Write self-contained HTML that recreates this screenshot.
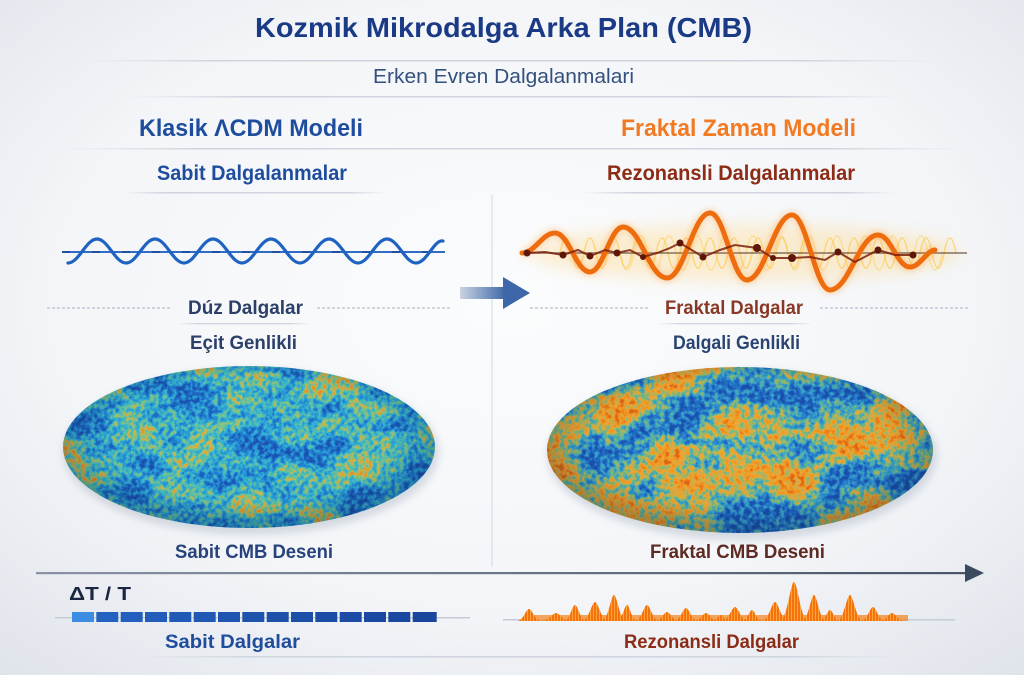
<!DOCTYPE html>
<html><head><meta charset="utf-8"><style>html,body{margin:0;padding:0;background:#f3f5f8}svg{display:block}text{font-family:"Liberation Sans",sans-serif}</style></head>
<body>
<svg width="1024" height="675" viewBox="0 0 1024 675" xmlns="http://www.w3.org/2000/svg">
<defs>
  <radialGradient id="bg" cx="50%" cy="45%" r="75%">
    <stop offset="0" stop-color="#fbfcfd"/>
    <stop offset="0.6" stop-color="#f3f5f8"/>
    <stop offset="1" stop-color="#dfe3ea"/>
  </radialGradient>
  <linearGradient id="fade" x1="0" y1="0" x2="1" y2="0">
    <stop offset="0" stop-color="#cfd5df" stop-opacity="0"/>
    <stop offset="0.15" stop-color="#cfd5df"/>
    <stop offset="0.85" stop-color="#cfd5df"/>
    <stop offset="1" stop-color="#cfd5df" stop-opacity="0"/>
  </linearGradient>
  <linearGradient id="arrowG" x1="0" y1="0" x2="1" y2="0">
    <stop offset="0" stop-color="#c9d3e2"/>
    <stop offset="1" stop-color="#3d67a8"/>
  </linearGradient>
  <linearGradient id="axisG" x1="0" y1="0" x2="1" y2="0">
    <stop offset="0" stop-color="#8a93a3"/>
    <stop offset="1" stop-color="#4a5568"/>
  </linearGradient>
  <radialGradient id="shade" cx="50%" cy="45%" r="52%">
    <stop offset="0" stop-color="#001030" stop-opacity="0"/>
    <stop offset="0.75" stop-color="#001030" stop-opacity="0.03"/>
    <stop offset="1" stop-color="#001030" stop-opacity="0.25"/>
  </radialGradient>
  <clipPath id="clipL"><ellipse cx="249" cy="447" rx="186" ry="81"/></clipPath>
  <clipPath id="clipR"><ellipse cx="740" cy="450" rx="193" ry="83"/></clipPath>
  <filter id="fL" x="0" y="0" width="1" height="1" color-interpolation-filters="sRGB">
    <feTurbulence type="fractalNoise" baseFrequency="0.018 0.03" numOctaves="3" seed="4" result="t1"/>
    <feColorMatrix in="t1" type="matrix" values="2.4 0 0 0 -0.7  2.4 0 0 0 -0.7  2.4 0 0 0 -0.7  0 0 0 0 1" result="c1"/>
    <feTurbulence type="fractalNoise" baseFrequency="0.22" numOctaves="2" seed="9" result="t2"/>
    <feColorMatrix in="t2" type="matrix" values="2.5 0 0 0 -0.75  2.5 0 0 0 -0.75  2.5 0 0 0 -0.75  0 0 0 0 1" result="c2"/>
    <feComposite in="c1" in2="c2" operator="arithmetic" k1="0" k2="0.6" k3="0.45" k4="-0.05" result="m"/>
    <feComponentTransfer in="m">
      <feFuncR type="table" tableValues="0.10 0.12 0.15 0.22 0.45 0.85 0.95"/>
      <feFuncG type="table" tableValues="0.32 0.42 0.58 0.72 0.78 0.72 0.55"/>
      <feFuncB type="table" tableValues="0.68 0.78 0.85 0.82 0.58 0.28 0.12"/>
      <feFuncA type="table" tableValues="1 1"/>
    </feComponentTransfer>
  </filter>
  <filter id="fR" x="0" y="0" width="1" height="1" color-interpolation-filters="sRGB">
    <feTurbulence type="fractalNoise" baseFrequency="0.014 0.024" numOctaves="3" seed="11" result="t1"/>
    <feColorMatrix in="t1" type="matrix" values="2.5 0 0 0 -0.75  2.5 0 0 0 -0.75  2.5 0 0 0 -0.75  0 0 0 0 1" result="c1"/>
    <feTurbulence type="fractalNoise" baseFrequency="0.2" numOctaves="2" seed="3" result="t2"/>
    <feColorMatrix in="t2" type="matrix" values="2.5 0 0 0 -0.75  2.5 0 0 0 -0.75  2.5 0 0 0 -0.75  0 0 0 0 1" result="c2"/>
    <feComposite in="c1" in2="c2" operator="arithmetic" k1="0" k2="0.65" k3="0.4" k4="-0.06" result="m"/>
    <feComponentTransfer in="m">
      <feFuncR type="table" tableValues="0.10 0.14 0.22 0.50 0.93 0.97 0.88"/>
      <feFuncG type="table" tableValues="0.32 0.45 0.65 0.74 0.68 0.58 0.40"/>
      <feFuncB type="table" tableValues="0.68 0.80 0.80 0.50 0.22 0.12 0.08"/>
      <feFuncA type="table" tableValues="1 1"/>
    </feComponentTransfer>
  </filter>
  <filter id="blur8" x="-20%" y="-100%" width="140%" height="300%"><feGaussianBlur stdDeviation="8"/></filter>
  <filter id="blur3" x="-10%" y="-50%" width="120%" height="200%"><feGaussianBlur stdDeviation="3"/></filter>
  <filter id="blur4"><feGaussianBlur stdDeviation="4"/></filter>
  <pattern id="stripes" width="3" height="10" patternUnits="userSpaceOnUse">
    <rect width="3" height="10" fill="#f4720f"/>
    <rect x="2" width="1" height="10" fill="#ffa535"/>
  </pattern>
</defs>

<rect width="1024" height="675" fill="url(#bg)"/>

<!-- Header -->
<text x="255" y="37" font-size="28" font-weight="bold" fill="#1b3a86" textLength="497" lengthAdjust="spacingAndGlyphs">Kozmik Mikrodalga Arka Plan (CMB)</text>
<rect x="85" y="60" width="850" height="1.5" fill="url(#fade)"/>
<text x="373" y="83" font-size="20" fill="#34507e" textLength="261" lengthAdjust="spacingAndGlyphs">Erken Evren Dalgalanmalari</text>
<rect x="124" y="96" width="778" height="1.5" fill="url(#fade)"/>
<text x="139" y="136" font-size="24" font-weight="bold" fill="#1f4d9e" textLength="224" lengthAdjust="spacingAndGlyphs">Klasik ΛCDM Modeli</text>
<text x="621" y="136" font-size="24" font-weight="bold" fill="#f27a22" textLength="235" lengthAdjust="spacingAndGlyphs">Fraktal Zaman Modeli</text>
<rect x="59" y="148" width="908" height="1.5" fill="url(#fade)"/>
<text x="157" y="180" font-size="21" font-weight="bold" fill="#1f4d9e" textLength="190" lengthAdjust="spacingAndGlyphs">Sabit Dalgalanmalar</text>
<text x="607" y="180" font-size="21" font-weight="bold" fill="#8c2c16" textLength="248" lengthAdjust="spacingAndGlyphs">Rezonansli Dalgalanmalar</text>
<rect x="124" y="192" width="262" height="1.5" fill="url(#fade)"/>
<rect x="582" y="192" width="313" height="1.5" fill="url(#fade)"/>

<!-- divider -->
<rect x="491.5" y="195" width="1" height="372" fill="#d3d9e2"/>

<!-- Left wave -->
<line x1="62" y1="252" x2="445" y2="252" stroke="#2f6cc4" stroke-width="2"/>
<line x1="62" y1="252" x2="445" y2="252" stroke="#1a3f86" stroke-width="2" stroke-dasharray="8 22" opacity="0.6"/>
<path d="M68,263 C79,263 86,239 97,239 S115,263 126,263 S144,239 155,239 S173,263 184,263 S202,239 213,239 S231,263 242,263 S260,239 271,239 S289,263 300,263 S318,239 329,239 S347,263 358,263 S376,239 387,239 S405,263 416,263 S434,239 443,241" fill="none" stroke="#1f63c2" stroke-width="3.2" stroke-linecap="round"/>

<!-- middle arrow -->
<rect x="460" y="287" width="46" height="12" fill="url(#arrowG)"/>
<polygon points="503,277 530,293 503,309" fill="#3d67a8"/>

<!-- Right wave -->
<ellipse cx="745" cy="253" rx="215" ry="28" fill="#ffcf6a" opacity="0.3" filter="url(#blur8)"/>
<path d="M560,253 q6,-30 12,0 t12,0 t12,0 t12,0 t12,0 t12,0 t12,0 t12,0 t12,0 t12,0 t12,0 t12,0 t12,0 t12,0 t12,0 t12,0 t12,0 t12,0 t12,0 t12,0 t12,0 t12,0 t12,0 t12,0 t12,0 t12,0 t12,0 t12,0 t12,0 t12,0 t12,0 t12,0 t12,0" fill="none" stroke="#ffc33a" stroke-width="1.6" opacity="0.55"/>
<path d="M620,253 q7,34 14,0 t14,0 t14,0 t14,0 t14,0 t14,0 t14,0 t14,0 t14,0 t14,0 t14,0 t14,0 t14,0 t14,0 t14,0 t14,0 t14,0 t14,0 t14,0 t14,0 t14,0 t14,0 t14,0" fill="none" stroke="#ffcd55" stroke-width="1.5" opacity="0.45"/>
<line x1="520" y1="253" x2="967" y2="253" stroke="#5a3a2a" stroke-width="1.6" opacity="0.7"/>
<path d="M522,253 C535,253 542,233 555,233 C569,233 576,272 590,272 C603,272 610,227 623,227 C641,227 649,278 667,278 C684,278 693,213 710,213 C725,213 732,280 747,280 C765,280 774,215 792,215 C807,215 815,290 830,290 C849,290 859,235 878,235 C891,235 897,267 910,267 C920,267 927,250 935,250" fill="none" stroke="#ff9a3a" stroke-width="9" opacity="0.3" filter="url(#blur3)"/>
<path d="M522,253 C535,253 542,233 555,233 C569,233 576,272 590,272 C603,272 610,227 623,227 C641,227 649,278 667,278 C684,278 693,213 710,213 C725,213 732,280 747,280 C765,280 774,215 792,215 C807,215 815,290 830,290 C849,290 859,235 878,235 C891,235 897,267 910,267 C920,267 927,250 935,250" fill="none" stroke="#ef6c0e" stroke-width="5" stroke-linecap="round"/>
<polyline points="527,253 545,252 563,255 578,250 590,256 605,250 617,253 630,250 643,257 657,253 670,248 680,243 695,252 703,257 720,250 735,245 757,248 773,258 792,258 810,257 825,260 838,252 855,262 878,250 895,255 913,255" fill="none" stroke="#7a1e0c" stroke-width="2" opacity="0.85"/>
<g fill="#5e1608">
  <circle cx="527" cy="253" r="3.5"/><circle cx="563" cy="255" r="3.5"/><circle cx="590" cy="256" r="3.5"/>
  <circle cx="617" cy="253" r="3.5"/><circle cx="643" cy="257" r="3"/><circle cx="680" cy="243" r="3.5"/>
  <circle cx="703" cy="257" r="3.5"/><circle cx="757" cy="248" r="4"/><circle cx="773" cy="258" r="3"/>
  <circle cx="792" cy="258" r="4"/><circle cx="838" cy="252" r="3.5"/><circle cx="878" cy="250" r="3.5"/><circle cx="913" cy="255" r="3.5"/>
</g>

<!-- wave labels -->
<line x1="47" y1="308" x2="172" y2="308" stroke="#c2c9d4" stroke-width="1.4" stroke-dasharray="3 2"/>
<line x1="317" y1="308" x2="452" y2="308" stroke="#c2c9d4" stroke-width="1.4" stroke-dasharray="3 2"/>
<line x1="530" y1="308" x2="650" y2="308" stroke="#c2c9d4" stroke-width="1.4" stroke-dasharray="3 2"/>
<line x1="820" y1="308" x2="970" y2="308" stroke="#c2c9d4" stroke-width="1.4" stroke-dasharray="3 2"/>
<text x="188" y="314" font-size="19" font-weight="bold" fill="#2b3f68" textLength="115" lengthAdjust="spacingAndGlyphs">Dúz Dalgalar</text>
<text x="665" y="314" font-size="19" font-weight="bold" fill="#8a3826" textLength="138" lengthAdjust="spacingAndGlyphs">Fraktal Dalgalar</text>
<rect x="177" y="323" width="133" height="1.3" fill="url(#fade)"/>
<rect x="657" y="323" width="156" height="1.3" fill="url(#fade)"/>
<text x="190" y="349" font-size="19" font-weight="bold" fill="#2b3f68" textLength="107" lengthAdjust="spacingAndGlyphs">Eçit Genlikli</text>
<text x="673" y="349" font-size="19" font-weight="bold" fill="#2a4472" textLength="127" lengthAdjust="spacingAndGlyphs">Dalgali Genlikli</text>

<!-- CMB maps -->
<ellipse cx="251" cy="452" rx="188" ry="83" fill="#8a96aa" opacity="0.3" filter="url(#blur4)"/>
<g clip-path="url(#clipL)">
  <rect x="60" y="362" width="380" height="170" filter="url(#fL)"/>
  <ellipse cx="249" cy="447" rx="186" ry="81" fill="url(#shade)"/>
</g>
<ellipse cx="742" cy="455" rx="195" ry="85" fill="#8a96aa" opacity="0.3" filter="url(#blur4)"/>
<g clip-path="url(#clipR)">
  <rect x="544" y="364" width="392" height="172" filter="url(#fR)"/>
  <ellipse cx="740" cy="450" rx="193" ry="83" fill="url(#shade)"/>
</g>
<text x="175" y="558" font-size="19" font-weight="bold" fill="#27427c" textLength="158" lengthAdjust="spacingAndGlyphs">Sabit CMB Deseni</text>
<text x="650" y="558" font-size="19" font-weight="bold" fill="#5e2a22" textLength="175" lengthAdjust="spacingAndGlyphs">Fraktal CMB Deseni</text>

<!-- bottom axis -->
<rect x="36" y="572" width="932" height="2.2" fill="url(#axisG)"/>
<polygon points="965,564 984,573 965,582" fill="#3c4a60"/>
<text x="69" y="600" font-size="18" font-weight="bold" fill="#1b2640" textLength="62" lengthAdjust="spacingAndGlyphs">ΔT / T</text>

<rect x="55" y="617" width="415" height="1.5" fill="#c6ccd6"/>
<rect x="503" y="619" width="452" height="1.5" fill="#c6ccd6"/>
<g>
  <rect x="72" y="612" width="22" height="10" fill="#3a8de0"/>
  <rect x="96.3" y="612" width="22" height="10" fill="#2462c0"/>
  <rect x="120.7" y="612" width="22" height="10" fill="#2360bd"/>
  <rect x="145" y="612" width="22" height="10" fill="#225dba"/>
  <rect x="169.3" y="612" width="22" height="10" fill="#215ab6"/>
  <rect x="193.7" y="612" width="22" height="10" fill="#2058b3"/>
  <rect x="218" y="612" width="22" height="10" fill="#1f55b0"/>
  <rect x="242.3" y="612" width="22" height="10" fill="#1e53ad"/>
  <rect x="266.7" y="612" width="22" height="10" fill="#1d51aa"/>
  <rect x="291" y="612" width="22" height="10" fill="#1c4fa8"/>
  <rect x="315.3" y="612" width="22" height="10" fill="#1c4da6"/>
  <rect x="339.7" y="612" width="22" height="10" fill="#1b4ba4"/>
  <rect x="364" y="612" width="22" height="10" fill="#1b49a2"/>
  <rect x="388.3" y="612" width="22" height="10" fill="#1a48a0"/>
  <rect x="412.7" y="612" width="24" height="10" fill="#1a469e"/>
</g>

<rect x="524" y="615" width="384" height="6" fill="#f4801a" opacity="0.7"/>
<g fill="url(#stripes)">
  <path d="M517,621 C523,621 526,609 529,609 S535,621 541,621Z"/>
  <path d="M542,621 C549,621 552.5,613 556,613 S563,621 570,621Z"/>
  <path d="M564,621 C569.5,621 572.2,605 575,605 S580.5,621 586,621Z"/>
  <path d="M582,621 C588.5,621 591.8,602 595,602 S601.5,621 608,621Z"/>
  <path d="M602,621 C608,621 611,595 614,595 S620,621 626,621Z"/>
  <path d="M617,621 C622,621 624.5,605 627,605 S632,621 637,621Z"/>
  <path d="M635,621 C641,621 644,605 647,605 S653,621 659,621Z"/>
  <path d="M655,621 C661,621 664,612 667,612 S673,621 679,621Z"/>
  <path d="M674,621 C680,621 683,608 686,608 S692,621 698,621Z"/>
  <path d="M694,621 C700,621 703,613 706,613 S712,621 718,621Z"/>
  <path d="M712,621 C716,621 719,615 721,615 S725,621 729,621Z"/>
  <path d="M722,621 C728.5,621 731.8,607 735,607 S741.5,621 748,621Z"/>
  <path d="M742,621 C747,621 749.5,610 752,610 S757,621 762,621Z"/>
  <path d="M762,621 C768.5,621 771.8,602 775,602 S781.5,621 788,621Z"/>
  <path d="M780,621 C787,621 790.5,582 794,582 S801,621 808,621Z"/>
  <path d="M802,621 C808,621 811,595 814,595 S820,621 826,621Z"/>
  <path d="M820,621 C825,621 827.5,610 830,610 S835,621 840,621Z"/>
  <path d="M837,621 C843.5,621 846.8,595 850,595 S856.5,621 863,621Z"/>
  <path d="M861,621 C867,621 870,607 873,607 S879,621 885,621Z"/>
  <path d="M880,621 C886,621 889,613 892,613 S898,621 904,621Z"/>
</g>

<text x="165" y="648" font-size="19" font-weight="bold" fill="#1f4d9e" textLength="135" lengthAdjust="spacingAndGlyphs">Sabit Dalgalar</text>
<text x="624" y="648" font-size="19" font-weight="bold" fill="#8c2c16" textLength="175" lengthAdjust="spacingAndGlyphs">Rezonansli Dalgalar</text>
<rect x="137" y="656" width="765" height="1.5" fill="url(#fade)"/>
</svg>
</body></html>
